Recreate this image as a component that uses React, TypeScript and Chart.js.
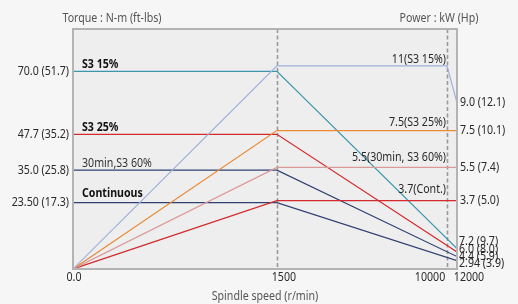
import React, { useEffect, useRef } from 'react';
import { Chart, LinearScale, registerables } from 'chart.js';

Chart.register(...registerables);

// ---------- data ----------
const speedTicks = [0, 1500, 10000, 12000];
const speedTickLabels = ['0.0', '1500', '10000', '12000'];

const torqueTicks = [70, 47.7, 35, 23.5];
const torqueTickLabels = ['70.0 (51.7)', '47.7 (35.2)', '35.0 (25.8)', '23.50 (17.3)'];

const powerTicks = [9.0, 7.5, 5.5, 3.7];
const powerTickLabels = ['9.0 (12.1)', '7.5 (10.1)', '5.5 (7.4)', '3.7 (5.0)'];

const torqueSpeeds = [0, 1500, 12000];
const torqueS3_15 = [70, 70, 7.2];
const torqueS3_25 = [47.7, 47.7, 6.0];
const torqueS3_60 = [35, 35, 4.4];
const torqueCont = [23.5, 23.5, 2.94];

const powerS3_15Speeds = [0, 1500, 10000, 12000];
const powerS3_15 = [0, 11, 11, 9.0];
const powerSpeeds = [0, 1500, 12000];
const powerS3_25 = [0, 7.5, 7.5];
const powerS3_60 = [0, 5.5, 5.5];
const powerCont = [0, 3.7, 3.7];

const torqueSeriesNames = ['S3 15%', 'S3 25%', '30min,S3 60%', 'Continuous'];
const torqueSeriesValues = [70, 47.7, 35, 23.5];
const powerSeriesNames = ['11(S3 15%)', '7.5(S3 25%)', '5.5(30min, S3 60%)', '3.7(Cont.)'];
const powerSeriesValues = [11, 7.5, 5.5, 3.7];

const endTorqueValues = [7.2, 6.0, 4.4, 2.94];
const endLabels = ['7.2 (9.7)', '6.0 (8.0)', '4.4 (5.9)', '2.94 (3.9)'];

const torqueTitle = 'Torque : N-m (ft-lbs)';
const powerTitle = 'Power : kW (Hp)';
const speedTitle = 'Spindle speed (r/min)';

// ---------- layout / style ----------
const FONT = "'Noto Sans', 'Open Sans', Roboto, sans-serif";
const FONT_SIZE = 12.8;
const TEXT_SX = 0.83; // horizontal condensing of text
const SPEED_FRACTIONS = [0, 0.531, 0.974, 1];
const X_LABEL_OFFSETS = [1, 7, -17, 12];

const C = {
  teal: '#3a95ad',
  lightBlue: '#9eb1da',
  orange: '#ea8a35',
  pink: '#d99a9a',
  red: '#d22a2e',
  navy: '#2f4170',
  text: '#2a2a2a',
  title: '#555555',
  border: '#b3b3b3',
  dash: '#999999',
};

function speedToFraction(v: number): number {
  const b = speedTicks;
  if (v <= b[0]) return SPEED_FRACTIONS[0];
  for (let i = 1; i < b.length; i++) {
    if (v <= b[i]) {
      const t = (v - b[i - 1]) / (b[i] - b[i - 1]);
      return SPEED_FRACTIONS[i - 1] + t * (SPEED_FRACTIONS[i] - SPEED_FRACTIONS[i - 1]);
    }
  }
  return SPEED_FRACTIONS[SPEED_FRACTIONS.length - 1];
}
function fractionToSpeed(f: number): number {
  const b = speedTicks;
  for (let i = 1; i < SPEED_FRACTIONS.length; i++) {
    if (f <= SPEED_FRACTIONS[i]) {
      const t = (f - SPEED_FRACTIONS[i - 1]) / (SPEED_FRACTIONS[i] - SPEED_FRACTIONS[i - 1]);
      return b[i - 1] + t * (b[i] - b[i - 1]);
    }
  }
  return b[b.length - 1];
}

class SpeedScale extends LinearScale {
  static id = 'speed';
  static defaults = {};
  getPixelForValue(value: number) {
    return (this as any).getPixelForDecimal(speedToFraction(value));
  }
  getValueForPixel(pixel: number) {
    return fractionToSpeed((this as any).getDecimalForPixel(pixel));
  }
}
Chart.register(SpeedScale as any);

const pts = (xs: number[], ys: number[]) => xs.map((x, i) => ({ x, y: ys[i] }));

function text(
  ctx: CanvasRenderingContext2D,
  t: string,
  x: number,
  y: number,
  align: CanvasTextAlign,
  color: string,
  bold = false
) {
  ctx.save();
  ctx.font = `${bold ? 'bold ' : ''}${FONT_SIZE}px ${FONT}`;
  ctx.fillStyle = color;
  ctx.textAlign = align;
  ctx.textBaseline = 'middle';
  ctx.translate(x, y);
  ctx.scale(TEXT_SX, 1);
  ctx.fillText(t, 0, 0);
  ctx.restore();
}

const decorPlugin = {
  id: 'decor',
  beforeDraw(chart: any) {
    const { ctx, chartArea: a } = chart;
    ctx.save();
    ctx.fillStyle = '#f6f6f6';
    ctx.fillRect(0, 0, chart.width, chart.height);
    ctx.fillStyle = '#eeeeee';
    ctx.fillRect(a.left, a.top, a.right - a.left, a.bottom - a.top);
    ctx.restore();
  },
  beforeDatasetsDraw(chart: any) {
    const { ctx, chartArea: a } = chart;
    const xs = chart.scales.x;
    ctx.save();
    ctx.strokeStyle = C.dash;
    ctx.lineWidth = 1.6;
    ctx.setLineDash([4, 2.5]);
    [speedTicks[1], speedTicks[2]].forEach((v) => {
      const px = Math.round(xs.getPixelForValue(v)) + 0.5;
      ctx.beginPath();
      ctx.moveTo(px, a.top);
      ctx.lineTo(px, a.bottom);
      ctx.stroke();
    });
    ctx.restore();
  },
  afterDatasetsDraw(chart: any) {
    const { ctx, chartArea: a } = chart;
    const xs = chart.scales.x;
    const yT = chart.scales.y;
    const yP = chart.scales.y1;
    ctx.save();
    ctx.strokeStyle = C.border;
    ctx.lineWidth = 2;
    ctx.strokeRect(a.left, a.top, a.right - a.left, a.bottom - a.top);
    ctx.restore();

    // axis tick labels
    torqueTicks.forEach((v, i) => text(ctx, torqueTickLabels[i], a.left - 4, yT.getPixelForValue(v), 'right', C.text));
    powerTicks.forEach((v, i) => text(ctx, powerTickLabels[i], a.right + 3, yP.getPixelForValue(v), 'left', C.text));
    speedTicks.forEach((v, i) =>
      text(ctx, speedTickLabels[i], xs.getPixelForValue(v) + X_LABEL_OFFSETS[i], a.bottom + 8, 'center', C.text)
    );

    // torque series labels
    const lx = a.left + 9;
    torqueSeriesNames.forEach((name, i) => {
      const bold = i !== 2;
      const off = i === 3 ? 9 : 7;
      text(ctx, name, lx, yT.getPixelForValue(torqueSeriesValues[i]) - off, 'left', bold ? '#111111' : '#333333', bold);
    });

    // power series labels
    const rx = xs.getPixelForValue(speedTicks[2]) - 1;
    const pOffs = [7, 8, 10, 11];
    powerSeriesNames.forEach((name, i) => {
      text(ctx, name, rx, yP.getPixelForValue(powerSeriesValues[i]) - pOffs[i], 'right', C.text);
    });

    // stacked end labels
    const baseY = yT.getPixelForValue(endTorqueValues[endTorqueValues.length - 1]) + 3;
    endLabels.forEach((t, i) => {
      const k = endLabels.length - 1 - i;
      text(ctx, t, a.right + 2, baseY - k * 7.3, 'left', C.text);
    });

    // axis titles
    text(ctx, speedTitle, 265, a.bottom + 27, 'center', C.title);
    text(ctx, torqueTitle, 112, a.top - 11, 'center', C.title);
    text(ctx, powerTitle, 439, a.top - 11, 'center', C.title);
  },
};

export default function App() {
  const ref = useRef<HTMLCanvasElement | null>(null);
  useEffect(() => {
    document.body.style.margin = '0';
    document.body.style.background = '#f6f6f6';
    const canvas = ref.current;
    if (!canvas) return;
    const line = (data: any[], color: string, yAxisID: string) => ({
      data,
      borderColor: color,
      backgroundColor: color,
      borderWidth: 1.2,
      pointRadius: 0,
      fill: false,
      tension: 0,
      yAxisID,
    });
    const chart = new Chart(canvas, {
      type: 'line',
      data: {
        datasets: [
          line(pts(powerS3_15Speeds, powerS3_15), C.lightBlue, 'y1'),
          line(pts(powerSpeeds, powerS3_25), C.orange, 'y1'),
          line(pts(powerSpeeds, powerS3_60), C.pink, 'y1'),
          line(pts(powerSpeeds, powerCont), C.red, 'y1'),
          line(pts(torqueSpeeds, torqueS3_15), C.teal, 'y'),
          line(pts(torqueSpeeds, torqueS3_25), C.red, 'y'),
          line(pts(torqueSpeeds, torqueS3_60), C.navy, 'y'),
          line(pts(torqueSpeeds, torqueCont), C.navy, 'y'),
        ],
      },
      options: {
        responsive: false,
        animation: false,
        devicePixelRatio: 1,
        layout: { padding: { top: 29, left: 0, right: 0, bottom: 0 } },
        plugins: { legend: { display: false }, tooltip: { enabled: false } },
        scales: {
          x: {
            type: 'speed' as any,
            min: 0,
            max: 12000,
            grid: { display: false },
            border: { display: false },
            ticks: { display: false },
            afterBuildTicks: (s: any) => {
              s.ticks = speedTicks.map((value) => ({ value }));
            },
            afterFit: (s: any) => {
              s.height = 35;
            },
          },
          y: {
            type: 'linear',
            position: 'left',
            min: 0,
            max: 85,
            grid: { display: false, drawTicks: false },
            border: { display: false },
            ticks: { display: false },
            afterBuildTicks: (s: any) => {
              s.ticks = torqueTicks.map((value) => ({ value }));
            },
            afterFit: (s: any) => {
              s.width = 73;
            },
          },
          y1: {
            type: 'linear',
            position: 'right',
            min: 0,
            max: 13,
            grid: { display: false, drawTicks: false },
            border: { display: false },
            ticks: { display: false },
            afterBuildTicks: (s: any) => {
              s.ticks = powerTicks.map((value) => ({ value }));
            },
            afterFit: (s: any) => {
              s.width = 61;
            },
          },
        },
      } as any,
      plugins: [decorPlugin],
    });
    return () => chart.destroy();
  }, []);
  return (
    <div style={{ position: 'fixed', left: 0, top: 0, width: 518, height: 304 }}>
      <canvas ref={ref} width={518} height={304} />
    </div>
  );
}
